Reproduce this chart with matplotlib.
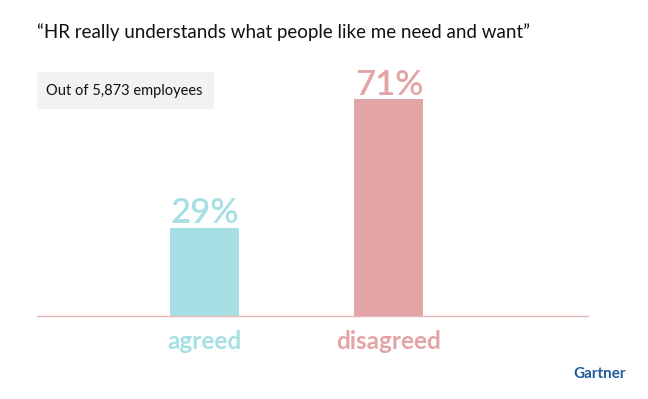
import matplotlib

matplotlib.use("Agg")

import matplotlib.pyplot as plt
from matplotlib.patches import Rectangle

categories = ["agreed", "disagreed"]
values = [29, 71]
colors = ["#a6dfe4", "#e3a4a5"]
title = "\u201cHR really understands what people like me need and want\u201d"
note = "Out of 5,873 employees"

plt.rcParams["font.family"] = ["Lato", "DejaVu Sans"]

W, H = 648, 399
fig = plt.figure(figsize=(W / 100, H / 100), dpi=100)

# axes placed so baseline sits at y=316px and bars are centered at 205/389px
left, right = 37, 588
base = 316
px_per_unit = 3.05
ax_h = 80 * px_per_unit
ax = fig.add_axes([left / W, (H - base) / H, (right - left) / W, ax_h / H])

x = range(len(categories))
ax.bar(x, values, width=0.375, color=colors, zorder=2)
ax.set_xlim(-0.913, 2.082)
ax.set_ylim(0, 80)

for xi, v, c in zip(x, values, colors):
    ax.annotate(f"{v}%", (xi, v), xytext=(0, -1), textcoords="offset points",
                ha="center", va="bottom", fontsize=25, fontweight="semibold", color=c)

ax.set_xticks(list(x))
ax.set_xticklabels(categories, fontsize=17.5, fontweight="bold")
for lbl, c in zip(ax.get_xticklabels(), colors):
    lbl.set_color(c)
ax.tick_params(axis="x", length=0, pad=10)
ax.set_yticks([])
for s in ["top", "left", "right"]:
    ax.spines[s].set_visible(False)
ax.spines["bottom"].set_color("#e6b5b6")
ax.spines["bottom"].set_linewidth(1.0)

fig.text(37 / W, (H - 32) / H, title, fontsize=13.5, color="#111111", va="center", ha="left")

fig.patches.append(Rectangle((37 / W, (H - 109) / H), 177 / W, 37 / H,
                             transform=fig.transFigure, facecolor="#f2f2f2",
                             edgecolor="none"))
fig.text(46 / W, (H - 91) / H, note, fontsize=10.5, color="#111111", va="center", ha="left")

fig.text(600 / W, (H - 374) / H, "Gartner", fontsize=11, fontweight="bold",
         color="#1d5d9b", va="center", ha="center")

fig.savefig("out.png", dpi=100)
